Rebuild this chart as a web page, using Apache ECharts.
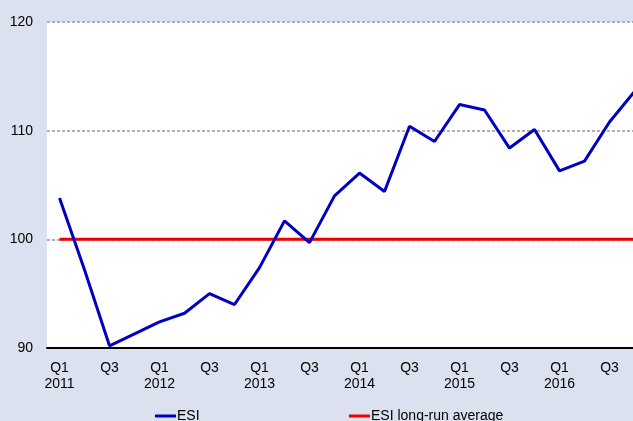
<!DOCTYPE html>
<html>
<head>
<meta charset="utf-8">
<script src="https://cdn.jsdelivr.net/npm/echarts@6/dist/echarts.min.js"></script>
<style>
  html, body { margin: 0; padding: 0; background: #dbe1ee; }
  #chart { width: 633px; height: 421px; }
</style>
</head>
<body>
<div id="chart"></div>
<script>
// quarterly categories, year shown under Q1
var quarters = [
  'Q1\n2011', 'Q2', 'Q3', 'Q4',
  'Q1\n2012', 'Q2', 'Q3', 'Q4',
  'Q1\n2013', 'Q2', 'Q3', 'Q4',
  'Q1\n2014', 'Q2', 'Q3', 'Q4',
  'Q1\n2015', 'Q2', 'Q3', 'Q4',
  'Q1\n2016', 'Q2', 'Q3', 'Q4'
];
var esi = [
  103.8, 97.2, 90.2, 91.3,
  92.4, 93.2, 95.0, 94.0,
  97.4, 101.7, 99.7, 104.0,
  106.1, 104.4, 110.4, 109.0,
  112.4, 111.9, 108.4, 110.1,
  106.3, 107.2, 110.8, 113.6
];
var longRunAvg = [
  100, 100, 100, 100, 100, 100, 100, 100, 100, 100, 100, 100,
  100, 100, 100, 100, 100, 100, 100, 100, 100, 100, 100, 100
];
var yTicks = [90, 100, 110, 120];

var font = 'Liberation Sans, Arial, sans-serif';
var myChart = echarts.init(document.getElementById('chart'));

myChart.setOption({
  backgroundColor: '#dbe1ee',
  animation: false,
  grid: {
    left: 47,
    top: 22,
    width: 600,   // plot runs past the right edge of the picture
    bottom: 73,
    outerBoundsMode: 'none',
    containLabel: false,
    show: true,
    backgroundColor: '#ffffff',
    borderWidth: 0
  },
  legend: [
    {
      data: ['ESI'],
      left: 150,
      top: 404,
      icon: 'rect',
      itemWidth: 21,
      itemHeight: 3,
      textStyle: { fontFamily: font, fontSize: 14, color: '#000', padding: [0, 0, 0, -4] }
    },
    {
      data: ['ESI long-run average'],
      left: 344,
      top: 404,
      icon: 'rect',
      itemWidth: 21,
      itemHeight: 3,
      textStyle: { fontFamily: font, fontSize: 14, color: '#000', padding: [0, 0, 0, -4] }
    }
  ],
  xAxis: {
    type: 'category',
    data: quarters,
    boundaryGap: true,
    axisLine: { show: true, lineStyle: { color: '#000', width: 2 } },
    axisTick: { show: false },
    axisLabel: {
      interval: 1,
      margin: 12,
      fontFamily: font,
      fontSize: 14,
      lineHeight: 16,
      color: '#000'
    },
    splitLine: { show: false }
  },
  yAxis: {
    type: 'value',
    min: yTicks[0],
    max: yTicks[yTicks.length - 1],
    interval: 10,
    axisLine: { show: false },
    axisTick: { show: false },
    axisLabel: {
      margin: 14,
      fontFamily: font,
      fontSize: 14,
      color: '#000'
    },
    splitLine: {
      show: true,
      lineStyle: { color: '#999999', type: [3, 2], width: 1.5 }
    }
  },
  series: [
    {
      name: 'ESI',
      type: 'line',
      data: esi,
      symbol: 'none',
      z: 3,
      lineStyle: { color: '#0000c0', width: 3 },
      itemStyle: { color: '#0000c0' }
    },
    {
      name: 'ESI long-run average',
      type: 'line',
      data: longRunAvg,
      symbol: 'none',
      z: 2,
      lineStyle: { color: '#ee0000', width: 3 },
      itemStyle: { color: '#ee0000' }
    }
  ]
});
</script>
</body>
</html>
